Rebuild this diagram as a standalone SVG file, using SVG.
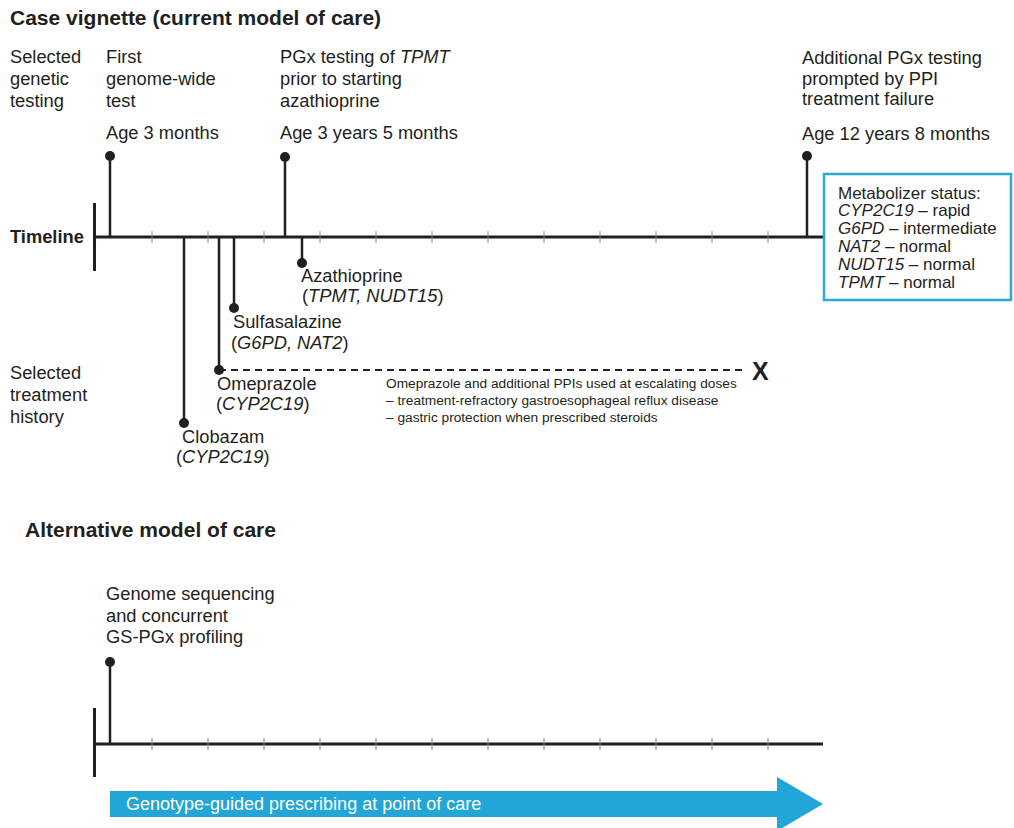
<svg xmlns="http://www.w3.org/2000/svg" width="1014" height="828" viewBox="0 0 1014 828">
<style>
text{font-family:"Liberation Sans",Arial,Helvetica,sans-serif;fill:#231f20}
.t{font-size:18.3px}
.m{font-size:17px}
.h{font-size:21px;font-weight:bold}
.n{font-size:13.7px}
.i{font-style:italic}
.axis{stroke:#231f20;stroke-width:2.8;fill:none}
.bar{stroke:#231f20;stroke-width:3;fill:none}
.pin{stroke:#231f20;stroke-width:2.5;fill:none}
.tick{stroke:#8a8a8a;stroke-width:1;fill:none}
.dot{fill:#231f20}
</style>

<g id="titles">
<text class="h" x="10" y="25">Case vignette (current model of care)</text>
<text class="h" x="25" y="537">Alternative model of care</text>
<text class="t" x="10" y="243" font-weight="bold">Timeline</text>
<text class="t" x="10"><tspan x="10" y="63">Selected</tspan><tspan x="10" y="85">genetic</tspan><tspan x="10" y="107">testing</tspan></text>
<text class="t" x="10"><tspan x="10" y="379">Selected</tspan><tspan x="10" y="401">treatment</tspan><tspan x="10" y="423">history</tspan></text>
</g>

<g id="timeline-top">
<line class="bar" x1="94.5" y1="203" x2="94.5" y2="271"/>
<line class="axis" x1="94.5" y1="237" x2="823" y2="237"/>
<g class="tick">
<line x1="152" y1="231" x2="152" y2="243"/><line x1="208" y1="231" x2="208" y2="243"/><line x1="264" y1="231" x2="264" y2="243"/><line x1="320" y1="231" x2="320" y2="243"/><line x1="376" y1="231" x2="376" y2="243"/><line x1="432" y1="231" x2="432" y2="243"/><line x1="488" y1="231" x2="488" y2="243"/><line x1="544" y1="231" x2="544" y2="243"/><line x1="600" y1="231" x2="600" y2="243"/><line x1="656" y1="231" x2="656" y2="243"/><line x1="712" y1="231" x2="712" y2="243"/><line x1="768" y1="231" x2="768" y2="243"/>
</g>
</g>

<g id="connectors">
<line class="pin" x1="110" y1="156" x2="110" y2="237"/>
<line class="pin" x1="285" y1="157" x2="285" y2="237"/>
<line class="pin" x1="807" y1="156" x2="807" y2="237"/>
<line class="pin" x1="302" y1="237" x2="302" y2="263"/>
<line class="pin" x1="234" y1="237" x2="234" y2="308"/>
<line class="pin" x1="219" y1="237" x2="219" y2="370"/>
<line class="pin" x1="184" y1="237" x2="184" y2="423"/>
<line x1="219" y1="370" x2="746" y2="370" stroke="#231f20" stroke-width="2" stroke-dasharray="7,5"/>
<line class="pin" x1="110" y1="662" x2="110" y2="744"/>
</g>

<g id="node-first-test">
<circle class="dot" cx="110" cy="156" r="5"/>
<text class="t"><tspan x="106" y="63">First</tspan><tspan x="106" y="85">genome-wide</tspan><tspan x="106" y="107">test</tspan></text>
<text class="t" x="106" y="139">Age 3 months</text>
</g>

<g id="node-tpmt-test">
<circle class="dot" cx="285" cy="157" r="5"/>
<text class="t"><tspan x="280" y="63">PGx testing of <tspan class="i">TPMT</tspan></tspan><tspan x="280" y="85">prior to starting</tspan><tspan x="280" y="107">azathioprine</tspan></text>
<text class="t" x="280" y="139">Age 3 years 5 months</text>
</g>

<g id="node-additional-test">
<circle class="dot" cx="807" cy="156" r="5"/>
<text class="t"><tspan x="802" y="64">Additional PGx testing</tspan><tspan x="802" y="85">prompted by PPI</tspan><tspan x="802" y="105">treatment failure</tspan></text>
<text class="t" x="802" y="140">Age 12 years 8 months</text>
</g>

<g id="node-metabolizer">
<rect x="824" y="174" width="187" height="126" fill="#fff" stroke="#29a9de" stroke-width="2.5"/>
<text class="m"><tspan x="838" y="199">Metabolizer status:</tspan><tspan x="838" y="216"><tspan class="i">CYP2C19</tspan> – rapid</tspan><tspan x="838" y="234"><tspan class="i">G6PD</tspan> – intermediate</tspan><tspan x="838" y="252"><tspan class="i">NAT2</tspan> – normal</tspan><tspan x="838" y="270"><tspan class="i">NUDT15</tspan> – normal</tspan><tspan x="838" y="288"><tspan class="i">TPMT</tspan> – normal</tspan></text>
</g>

<g id="node-azathioprine">
<circle class="dot" cx="302" cy="263" r="5"/>
<text class="t"><tspan x="301" y="282">Azathioprine</tspan><tspan x="302" y="302">(<tspan class="i">TPMT, NUDT15</tspan>)</tspan></text>
</g>

<g id="node-sulfasalazine">
<circle class="dot" cx="234" cy="308" r="5"/>
<text class="t"><tspan x="233" y="328">Sulfasalazine</tspan><tspan x="231" y="349">(<tspan class="i">G6PD, NAT2</tspan>)</tspan></text>
</g>

<g id="node-omeprazole">
<circle class="dot" cx="219" cy="370" r="5"/>
<text class="t"><tspan x="217" y="390">Omeprazole</tspan><tspan x="216" y="410">(<tspan class="i">CYP2C19</tspan>)</tspan></text>
<text x="752" y="380" font-size="25" font-weight="bold">X</text>
<text class="n"><tspan x="386" y="388">Omeprazole and additional PPIs used at escalating doses</tspan><tspan x="386" y="405">– treatment-refractory gastroesophageal reflux disease</tspan><tspan x="386" y="422">– gastric protection when prescribed steroids</tspan></text>
</g>

<g id="node-clobazam">
<circle class="dot" cx="184" cy="423" r="5"/>
<text class="t"><tspan x="182" y="443">Clobazam</tspan><tspan x="176" y="463">(<tspan class="i">CYP2C19</tspan>)</tspan></text>
</g>

<g id="timeline-bottom">
<line class="bar" x1="94.5" y1="708" x2="94.5" y2="777"/>
<line class="axis" x1="94.5" y1="744" x2="823" y2="744"/>
<g class="tick">
<line x1="152" y1="738" x2="152" y2="750"/><line x1="208" y1="738" x2="208" y2="750"/><line x1="264" y1="738" x2="264" y2="750"/><line x1="320" y1="738" x2="320" y2="750"/><line x1="376" y1="738" x2="376" y2="750"/><line x1="432" y1="738" x2="432" y2="750"/><line x1="488" y1="738" x2="488" y2="750"/><line x1="544" y1="738" x2="544" y2="750"/><line x1="600" y1="738" x2="600" y2="750"/><line x1="656" y1="738" x2="656" y2="750"/><line x1="712" y1="738" x2="712" y2="750"/><line x1="768" y1="738" x2="768" y2="750"/>
</g>
</g>

<g id="node-genome-sequencing">
<circle class="dot" cx="110" cy="662" r="5"/>
<text class="t"><tspan x="106" y="600">Genome sequencing</tspan><tspan x="106" y="622">and concurrent</tspan><tspan x="106" y="643">GS-PGx profiling</tspan></text>
</g>

<g id="node-arrow">
<polygon points="110,791 777,791 777,777 823,804 777,831 777,817 110,817" fill="#22a6d8"/>
<text x="126" y="810" font-size="18" style="fill:#fff">Genotype-guided prescribing at point of care</text>
</g>
</svg>
